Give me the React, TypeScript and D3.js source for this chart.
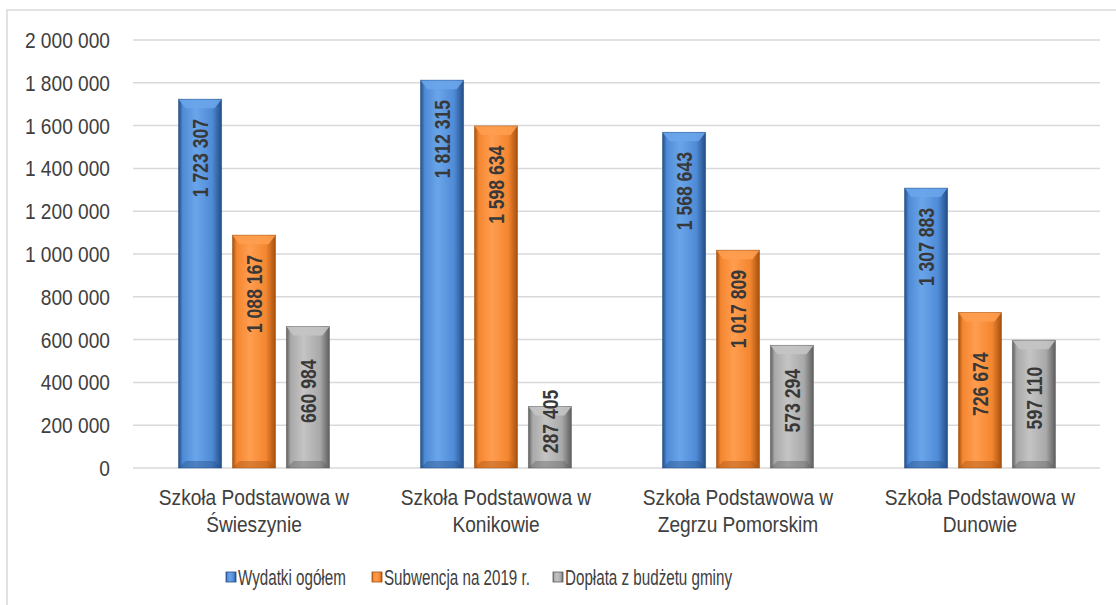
import { useMemo } from "react";
import * as d3 from "d3";

const WIDTH = 1116;
const HEIGHT = 605;

const categories = [
  ["Szkoła Podstawowa w", "Świeszynie"],
  ["Szkoła Podstawowa w", "Konikowie"],
  ["Szkoła Podstawowa w", "Zegrzu Pomorskim"],
  ["Szkoła Podstawowa w", "Dunowie"],
];

const seriesLabels = ["Wydatki ogółem", "Subwencja na 2019 r.", "Dopłata z budżetu gminy"];

const wydatki = [1723307, 1812315, 1568643, 1307883];
const subwencja = [1088167, 1598634, 1017809, 726674];
const doplata = [660984, 287405, 573294, 597110];

const yTicks = [0, 200000, 400000, 600000, 800000, 1000000, 1200000, 1400000, 1600000, 1800000, 2000000];

// base / light / dark for each series
const palette = [
  { base: "#4f8bd6", light: "#6aa5ea", dark: "#234d85" },
  { base: "#f4862f", light: "#ff9d4f", dark: "#a4500f" },
  { base: "#a9a9a9", light: "#c4c4c4", dark: "#5e5e5e" },
];

const fmt = (v: number) => d3.format(",")(v).replace(/,/g, " ");

const TEXT = "#404040";
const FONT = "'Liberation Sans', Arial, sans-serif";

export default function App() {
  const values = [wydatki, subwencja, doplata];

  const x0 = useMemo(
    () => d3.scaleBand<number>().domain(d3.range(categories.length)).range([133, 1101]).padding(0),
    []
  );
  const x1 = useMemo(
    () => d3.scaleBand<number>().domain([0, 1, 2]).range([45.5, 196.5]).paddingInner(0.2).paddingOuter(0),
    []
  );
  const y = useMemo(() => d3.scaleLinear().domain([0, 2000000]).range([468, 40]), []);

  const bev = 7;

  return (
    <svg
      width={WIDTH}
      height={HEIGHT}
      style={{ position: "absolute", left: 0, top: 0, background: "#fff" }}
      fontFamily={FONT}
    >
      <defs>
        {palette.map((p, i) => (
          <linearGradient key={i} id={`g${i}`} x1="0" x2="1" y1="0" y2="0">
            <stop offset="0%" stopColor={p.dark} />
            <stop offset="10%" stopColor={p.base} />
            <stop offset="40%" stopColor={p.light} />
            <stop offset="78%" stopColor={p.base} />
            <stop offset="100%" stopColor={p.dark} />
          </linearGradient>
        ))}
      </defs>

      {/* outer frame */}
      <rect x={7} y={10} width={1200} height={700} fill="none" stroke="#d9d9d9" strokeWidth={1.5} />

      {/* gridlines + y labels */}
      {yTicks.map((t) => (
        <g key={t}>
          <line x1={133} x2={1100} y1={y(t)} y2={y(t)} stroke="#d9d9d9" strokeWidth={1.5} />
          <text
            transform={`translate(110,${y(t)}) scale(0.87,1)`}
            textAnchor="end"
            dominantBaseline="central"
            fontSize={22}
            fill={TEXT}
          >
            {fmt(t)}
          </text>
        </g>
      ))}

      {/* bars */}
      {categories.map((cat, ci) => (
        <g key={ci} transform={`translate(${x0(ci)},0)`}>
          {values.map((vals, si) => {
            const v = vals[ci];
            const bx = x1(si)!;
            const w = x1.bandwidth();
            const top = y(v);
            const base = y(0);
            const h = base - top;
            const p = palette[si];
            const label = fmt(v);
            const len = label.length * 9.3;
            let cy = h > 2.5 * len ? top + 17 + len / 2 : top + h / 2 - 6;
            cy = Math.min(cy, base - 14 - len / 2);
            return (
              <g key={si}>
                <rect x={bx} y={top} width={w} height={h} fill={`url(#g${si})`} />
                <polygon
                  points={`${bx},${top} ${bx + w},${top} ${bx + w - bev},${top + bev + 2} ${bx + bev},${top + bev + 2}`}
                  fill={p.light}
                  opacity={0.9}
                />
                <polygon
                  points={`${bx},${base} ${bx + w},${base} ${bx + w - bev},${base - bev} ${bx + bev},${base - bev}`}
                  fill={p.dark}
                  opacity={0.4}
                />
                <rect x={bx} y={top} width={w} height={h} fill="none" stroke={p.dark} strokeWidth={0.8} strokeOpacity={0.6} />
                <text
                  transform={`translate(${bx + w / 2},${cy}) rotate(-90) scale(0.8,1)`}
                  textAnchor="middle"
                  dominantBaseline="central"
                  fontSize={22}
                  fontWeight="bold"
                  fill="#383838"
                >
                  {label}
                </text>
              </g>
            );
          })}
          {cat.map((line, li) => (
            <text
              key={li}
              transform={`translate(${x0.bandwidth() / 2},${505 + li * 27}) scale(0.87,1)`}
              textAnchor="middle"
              fontSize={22}
              fill={TEXT}
            >
              {line}
            </text>
          ))}
        </g>
      ))}

      {/* legend */}
      {seriesLabels.map((name, i) => {
        const lx = [226, 372, 553][i];
        const p = palette[i];
        return (
          <g key={name} transform={`translate(${lx},577)`}>
            <rect x={0} y={-5} width={10} height={10} fill={`url(#g${i})`} stroke={p.dark} strokeWidth={0.8} />
            <text
              transform={`translate(12,0) scale(0.69,1)`}
              dominantBaseline="central"
              fontSize={22}
              fill={TEXT}
            >
              {name}
            </text>
          </g>
        );
      })}
    </svg>
  );
}
